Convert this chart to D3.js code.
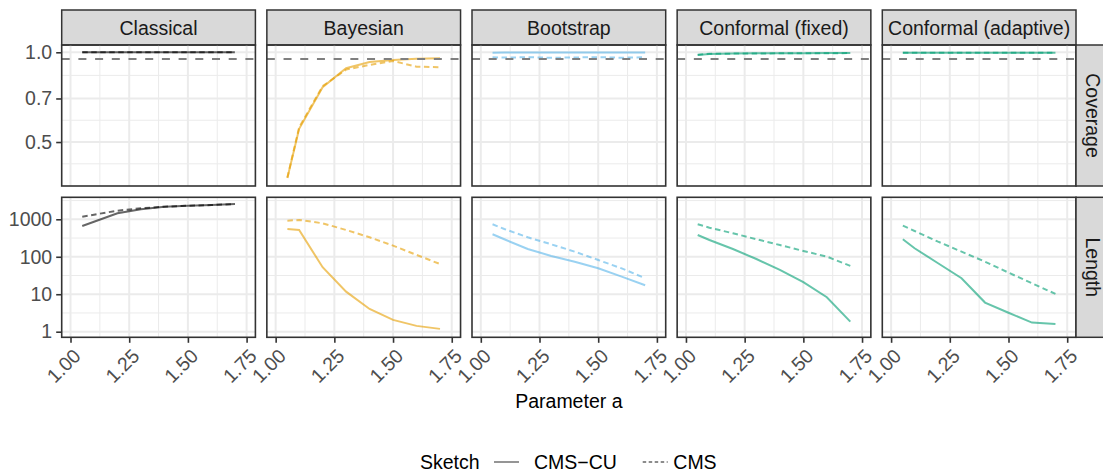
<!DOCTYPE html>
<html>
<head>
<meta charset="utf-8">
<script src="https://cdn.jsdelivr.net/npm/d3@7"></script>
<style>
  body { margin: 0; background: #fff; }
  svg { display: block; font-family: "Liberation Sans", Arial, Helvetica, sans-serif; }
</style>
</head>
<body>
<div class="chart"></div>
<script>
// data
const aValues = [1.05, 1.1, 1.2, 1.3, 1.4, 1.5, 1.6, 1.7];
const methods = ["Classical", "Bayesian", "Bootstrap", "Conformal (fixed)", "Conformal (adaptive)"];
const metrics = ["Coverage", "Length"];
const sketches = ["CMS\u2212CU", "CMS"];
const nominal = 0.95;

// coverage, one row per method
const coverageCmsCu = [
  [1, 1, 1, 1, 1, 1, 1, 1],
  [0.379, 0.554, 0.764, 0.884, 0.928, 0.943, 0.952, 0.955],
  [0.997, 0.998, 0.998, 0.998, 0.998, 0.998, 0.998, 0.998],
  [0.98, 0.986, 0.99, 0.992, 0.993, 0.993, 0.994, 0.994],
  [0.997, 0.997, 0.997, 0.997, 0.997, 0.997, 0.997, 0.997]
];
const coverageCms = [
  [1, 1, 1, 1, 1, 1, 1, 1],
  [0.38, 0.56, 0.77, 0.875, 0.907, 0.935, 0.895, 0.891],
  [0.962, 0.96, 0.963, 0.958, 0.961, 0.963, 0.959, 0.962],
  [0.982, 0.988, 0.99, 0.991, 0.992, 0.993, 0.993, 0.994],
  [0.996, 0.996, 0.996, 0.996, 0.996, 0.996, 0.996, 0.996]
];
// interval length, one row per method
const lengthCmsCu = [
  [662, 863, 1445, 1849, 2170, 2300, 2400, 2560],
  [551, 519, 52.5, 11.7, 4.05, 2.07, 1.43, 1.19],
  [398, 293, 161, 105, 74, 49.4, 29.5, 17.4],
  [381, 281, 161, 87, 44.5, 20.9, 8.3, 1.86],
  [293, 169, 67, 26.7, 6, 3.2, 1.75, 1.61]
];
const lengthCms = [
  [1170, 1330, 1700, 1960, 2170, 2300, 2400, 2560],
  [918, 960, 782, 519, 331, 198, 112, 64],
  [736, 551, 331, 215, 137, 82, 49, 26.7],
  [736, 597, 424, 293, 206, 143, 101, 57],
  [675, 488, 253, 137, 74, 37.7, 19.6, 10.2]
];

const xTicks = [1.00, 1.25, 1.50, 1.75];
const xMinor = [1.125, 1.375, 1.625];
const covTicks = [0.5, 0.7, 1.0];
const covMinor = [0.4226, 0.5916, 0.8367];
const lenTicks = [1, 10, 100, 1000];
const lenMinor = [3.162, 31.62, 316.2, 3162];

const colors = ["#000000", "#E69F00", "#56B4E9", "#009E73", "#009E73"];

const W = 1103, H = 472,
fs = 19.5,
panelW = 193.7,
panelStep = 205.15,
left0 = 61.7,
stripTop = 10, stripH = 35,
rowTop = [45, 197.3],
rowH = [141, 140],
rightStripW = 35;

const svg = d3.select(".chart").append("svg")
  .attr("width", W)
  .attr("height", H);
svg.append("rect").attr("width", W).attr("height", H).attr("fill", "#fff");

const yScales = [
  d3.scaleLog().domain([0.356, 1.058]).range([rowTop[0] + rowH[0], rowTop[0]]),
  d3.scaleLog().domain([0.709, 3864]).range([rowTop[1] + rowH[1], rowTop[1]])
];
const yTicks = [covTicks, lenTicks];
const yMinor = [covMinor, lenMinor];
const yFormat = [d3.format(".1f"), d3.format("d")];
const series = [[coverageCmsCu, coverageCms], [lengthCmsCu, lengthCms]];

methods.forEach((m, c) => {
  const x0 = left0 + c * panelStep;
  const x = d3.scaleLinear().domain([0.9625, 1.7875]).range([x0, x0 + panelW]);

  // strip on top
  svg.append("rect")
    .attr("x", x0).attr("y", stripTop)
    .attr("width", panelW).attr("height", stripH)
    .attr("fill", "#D9D9D9").attr("stroke", "#333").attr("stroke-width", 1.5);
  svg.append("text")
    .attr("x", x0 + panelW / 2).attr("y", stripTop + stripH / 2)
    .attr("dy", "0.36em")
    .attr("text-anchor", "middle")
    .attr("font-size", fs).attr("fill", "#1A1A1A")
    .text(m);

  metrics.forEach((metric, r) => {
    const y = yScales[r];
    const top = rowTop[r], bot = rowTop[r] + rowH[r];
    const g = svg.append("g");

    // grid
    g.selectAll(".xmin").data(xMinor).enter().append("line")
      .attr("x1", d => x(d)).attr("x2", d => x(d))
      .attr("y1", top).attr("y2", bot)
      .attr("stroke", "#EBEBEB").attr("stroke-width", 1);
    g.selectAll(".ymin").data(yMinor[r]).enter().append("line")
      .attr("x1", x0).attr("x2", x0 + panelW)
      .attr("y1", d => y(d)).attr("y2", d => y(d))
      .attr("stroke", "#EBEBEB").attr("stroke-width", 1);
    g.selectAll(".xmaj").data(xTicks).enter().append("line")
      .attr("x1", d => x(d)).attr("x2", d => x(d))
      .attr("y1", top).attr("y2", bot)
      .attr("stroke", "#EBEBEB").attr("stroke-width", 2);
    g.selectAll(".ymaj").data(yTicks[r]).enter().append("line")
      .attr("x1", x0).attr("x2", x0 + panelW)
      .attr("y1", d => y(d)).attr("y2", d => y(d))
      .attr("stroke", "#EBEBEB").attr("stroke-width", 2);

    // lines
    const line = d3.line()
      .x((d, i) => x(aValues[i]))
      .y(d => y(d));
    sketches.forEach((s, k) => {
      g.append("path")
        .attr("d", line(series[r][k][c]))
        .attr("fill", "none")
        .attr("stroke", colors[c])
        .attr("stroke-opacity", 0.6)
        .attr("stroke-width", 2)
        .attr("stroke-dasharray", k === 1 ? "5.5,3.5" : null);
    });

    if (r === 0) {
      g.append("line")
        .attr("x1", x0).attr("x2", x0 + panelW)
        .attr("y1", y(nominal)).attr("y2", y(nominal))
        .attr("stroke", "#7F7F7F").attr("stroke-width", 2)
        .attr("stroke-dasharray", "8,8.7");
    }

    // border
    g.append("rect")
      .attr("x", x0).attr("y", top)
      .attr("width", panelW).attr("height", rowH[r])
      .attr("fill", "none").attr("stroke", "#333").attr("stroke-width", 1.6);

    // y axis on first column
    if (c === 0) {
      const ya = svg.append("g").attr("transform", "translate(" + x0 + ",0)")
        .call(d3.axisLeft(y).tickValues(yTicks[r]).tickFormat(yFormat[r]).tickSize(5.5).tickPadding(4));
      ya.select(".domain").remove();
      ya.selectAll("line").attr("stroke", "#333").attr("stroke-width", 1.6);
      ya.selectAll("text").attr("font-size", fs).attr("fill", "#4D4D4D")
        .attr("font-family", "Liberation Sans, Arial, sans-serif");
    }

    // x axis on bottom row
    if (r === 1) {
      const xa = svg.append("g").attr("transform", "translate(0," + bot + ")")
        .call(d3.axisBottom(x).tickValues(xTicks).tickFormat(d3.format(".2f")).tickSize(5.5));
      xa.select(".domain").remove();
      xa.selectAll("line").attr("stroke", "#333").attr("stroke-width", 1.6);
      xa.selectAll("text")
        .attr("font-size", fs).attr("fill", "#4D4D4D")
        .attr("font-family", "Liberation Sans, Arial, sans-serif")
        .attr("text-anchor", "end")
        .attr("y", 0).attr("dy", "0.72em")
        .attr("transform", "translate(1,10) rotate(-45)");
    }

    // right strip
    if (c === methods.length - 1) {
      const sx = x0 + panelW;
      svg.append("rect")
        .attr("x", sx).attr("y", top)
        .attr("width", rightStripW).attr("height", rowH[r])
        .attr("fill", "#D9D9D9").attr("stroke", "#333").attr("stroke-width", 1.5);
      svg.append("text")
        .attr("transform", "translate(" + (sx + rightStripW / 2) + "," + (top + rowH[r] / 2) + ") rotate(90)")
        .attr("text-anchor", "middle")
        .attr("dy", "0.36em")
        .attr("font-size", fs).attr("fill", "#1A1A1A")
        .text(metric);
    }
  });
});

// x axis title
svg.append("text")
  .attr("x", left0 + (4 * panelStep + panelW) / 2)
  .attr("y", 408)
  .attr("text-anchor", "middle")
  .attr("font-size", fs).attr("fill", "#000")
  .text("Parameter a");

// legend
const legend = svg.append("g");
legend.append("text").attr("x", 420).attr("y", 469)
  .attr("font-size", fs).text("Sketch");
const keyX = [494, 642.7];
const labelX = [534, 673.3];
sketches.forEach((s, k) => {
  legend.append("line")
    .attr("x1", keyX[k]).attr("x2", keyX[k] + 25)
    .attr("y1", 462).attr("y2", 462)
    .attr("stroke", "#000").attr("stroke-opacity", 0.6)
    .attr("stroke-width", 1.4)
    .attr("stroke-dasharray", k === 1 ? "3.5,2.5" : null);
  legend.append("text").attr("x", labelX[k]).attr("y", 469)
    .attr("font-size", fs).text(s);
});
</script>
</body>
</html>
